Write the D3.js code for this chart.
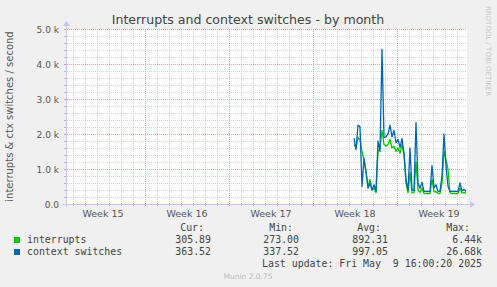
<!DOCTYPE html>
<html>
<head>
<meta charset="utf-8">
<script src="https://cdn.jsdelivr.net/npm/d3@7"></script>
<style>
  body { margin: 0; background: #f0f0f0; }
  svg { display: block; }
</style>
</head>
<body>
<div id="chart"></div>
<script>
// ---- data ----
const seriesNames = ["interrupts", "context switches"];
const seriesColors = ["#00cc00", "#0066b3"];
const firstSample = Date.UTC(2025, 3, 30, 10);   // Apr 30 10:00
const stepHours = 4;

const interrupts = [1700, 1600, 1900, 1830, 1500, 1250, 900, 500, 700, 400,
                    450, 320, 1500, 1600, 2100, 1700, 1650, 1700, 1850, 1600,
                    1650, 1500, 1600, 1450, 1700, 1400, 600, 320, 900, 320,
                    320, 1200, 400, 330, 450, 300, 300, 300, 300, 700,
                    350, 350, 300, 300, 600, 1500, 1270, 1000, 320, 300,
                    300, 300, 300, 450, 310, 330, 306];

const ctxSwitches = [1880, 1550, 2250, 2210, 500, 1300, 950, 450, 600, 400,
                     550, 360, 1800, 1500, 4420, 1900, 1920, 2000, 2250, 1920,
                     2100, 1750, 1850, 1620, 1870, 1450, 700, 380, 1600, 400,
                     380, 2330, 600, 450, 620, 360, 360, 360, 360, 1100,
                     460, 550, 360, 370, 800, 2000, 1100, 500, 360, 360,
                     360, 360, 360, 600, 370, 420, 364];

const yTicks = [0, 1000, 2000, 3000, 4000, 5000];
const yTickLabels = ["0.0", "1.0 k", "2.0 k", "3.0 k", "4.0 k", "5.0 k"];

const legendHeads = ["Cur:", "Min:", "Avg:", "Max:"];
const legendCur = ["305.89", "363.52"];
const legendMin = ["273.00", "337.52"];
const legendAvg = ["892.31", "997.05"];
const legendMax = ["6.44k", "26.68k"];

// ---- layout ----
const W = 497, H = 287;
const plot = {left: 67, right: 467, top: 29, bottom: 204};

const svg = d3.select("#chart")
    .append("svg")
    .attr("width", W)
    .attr("height", H)
    .style("font-family", "'DejaVu Sans', sans-serif");

svg.append("rect")
    .attr("width", W).attr("height", H)
    .attr("fill", "#f0f0f0");

const x = d3.scaleUtc()
    .domain([new Date(Date.UTC(2025, 3, 6, 12)), new Date(Date.UTC(2025, 4, 9, 20))])
    .range([plot.left, plot.right]);

const y = d3.scaleLinear()
    .domain([0, 5000])
    .range([plot.bottom, plot.top]);

svg.append("rect")
    .attr("x", plot.left).attr("y", plot.top)
    .attr("width", plot.right - plot.left)
    .attr("height", plot.bottom - plot.top)
    .attr("fill", "#fff");

// grid
const grid = svg.append("g");
const days = d3.utcDay.range(x.domain()[0], x.domain()[1]);
const weeks = d3.utcSunday.range(x.domain()[0], x.domain()[1]);
const minorY = d3.range(200, 5001, 200).filter(v => v % 1000 != 0);

grid.selectAll(".vmin")
    .data(days.filter(d => d.getUTCDay() != 0))
    .enter().append("line")
    .attr("x1", d => Math.round(x(d)) + 0.5)
    .attr("x2", d => Math.round(x(d)) + 0.5)
    .attr("y1", plot.top).attr("y2", plot.bottom)
    .attr("stroke", "#d4d4d4")
    .attr("stroke-dasharray", "1,1");

grid.selectAll(".hmin")
    .data(minorY)
    .enter().append("line")
    .attr("x1", plot.left).attr("x2", plot.right)
    .attr("y1", d => Math.round(y(d)) + 0.5)
    .attr("y2", d => Math.round(y(d)) + 0.5)
    .attr("stroke", "#d4d4d4")
    .attr("stroke-dasharray", "1,1");

grid.selectAll(".vmaj")
    .data(weeks)
    .enter().append("line")
    .attr("x1", d => Math.round(x(d)) + 0.5)
    .attr("x2", d => Math.round(x(d)) + 0.5)
    .attr("y1", plot.top).attr("y2", plot.bottom)
    .attr("stroke", "#eba0a0")
    .attr("stroke-dasharray", "1,1");

grid.selectAll(".hmaj")
    .data(yTicks.slice(1))
    .enter().append("line")
    .attr("x1", plot.left).attr("x2", plot.right)
    .attr("y1", d => Math.round(y(d)) + 0.5)
    .attr("y2", d => Math.round(y(d)) + 0.5)
    .attr("stroke", "#eba0a0")
    .attr("stroke-dasharray", "1,1");

// tick marks outside the axes
svg.selectAll(".xtick")
    .data(days)
    .enter().append("line")
    .attr("x1", d => Math.round(x(d)) + 0.5)
    .attr("x2", d => Math.round(x(d)) + 0.5)
    .attr("y1", plot.bottom - 1).attr("y2", plot.bottom + 2)
    .attr("stroke", d => d.getUTCDay() == 0 ? "#e09090" : "#bbb");

svg.selectAll(".ytick")
    .data(d3.range(0, 5001, 200))
    .enter().append("line")
    .attr("x1", plot.left - 3).attr("x2", plot.left)
    .attr("y1", d => Math.round(y(d)) + 0.5)
    .attr("y2", d => Math.round(y(d)) + 0.5)
    .attr("stroke", d => d % 1000 == 0 ? "#e09090" : "#bbb");

// series
const toPoints = vals => vals.map((v, i) => ({t: new Date(firstSample + i * stepHours * 3600e3), v: v}));
const line = d3.line()
    .x(d => x(d.t))
    .y(d => y(d.v));

[interrupts, ctxSwitches].forEach(function(vals, i) {
    svg.append("path")
        .datum(toPoints(vals))
        .attr("fill", "none")
        .attr("stroke", seriesColors[i])
        .attr("stroke-width", 1.3)
        .attr("stroke-linejoin", "round")
        .attr("d", line);
});

// axes with arrows
const axisColor = "#c4c8f0";
svg.append("line")
    .attr("x1", plot.left - 4).attr("x2", plot.right + 4)
    .attr("y1", plot.bottom + 0.5).attr("y2", plot.bottom + 0.5)
    .attr("stroke", axisColor);
svg.append("path")
    .attr("d", `M${plot.right + 3},${plot.bottom - 3} L${plot.right + 8},${plot.bottom + 0.5} L${plot.right + 3},${plot.bottom + 4} Z`)
    .attr("fill", axisColor);
svg.append("line")
    .attr("x1", plot.left - 0.5).attr("x2", plot.left - 0.5)
    .attr("y1", plot.bottom + 3).attr("y2", plot.top - 4)
    .attr("stroke", axisColor);
svg.append("path")
    .attr("d", `M${plot.left - 4},${plot.top - 3} L${plot.left - 0.5},${plot.top - 8} L${plot.left + 3},${plot.top - 3} Z`)
    .attr("fill", axisColor);

// axis labels
svg.selectAll(".ylab")
    .data(yTicks)
    .enter().append("text")
    .attr("x", plot.left - 8)
    .attr("y", d => y(d) + 3.5)
    .attr("text-anchor", "end")
    .attr("font-size", 9)
    .attr("fill", "#555")
    .text((d, i) => yTickLabels[i]);

const weekMids = weeks.concat([d3.utcSunday.offset(weeks[0], -1)])
    .map(d => d3.utcHour.offset(d, 84))
    .filter(d => d > x.domain()[0] && d < x.domain()[1])
    .sort((a, b) => a - b);

svg.selectAll(".xlab")
    .data(weekMids)
    .enter().append("text")
    .attr("x", d => x(d))
    .attr("y", plot.bottom + 13)
    .attr("text-anchor", "middle")
    .attr("font-size", 9.5)
    .attr("fill", "#555")
    .text(d => "Week " + d3.utcFormat("%V")(d));

// titles
svg.append("text")
    .attr("x", 248).attr("y", 23.5)
    .attr("text-anchor", "middle")
    .attr("font-size", 12.6)
    .attr("fill", "#444")
    .text("Interrupts and context switches - by month");

svg.append("text")
    .attr("transform", `translate(13, ${(plot.top + plot.bottom) / 2}) rotate(-90)`)
    .attr("text-anchor", "middle")
    .attr("font-size", 10)
    .attr("fill", "#555")
    .text("interrupts & ctx switches / second");

svg.append("text")
    .attr("transform", "translate(486, 6) rotate(90)")
    .attr("font-size", 7)
    .attr("fill", "#c8c8c8")
    .text("RRDTOOL / TOBI OETIKER");

// legend
const mono = "'DejaVu Sans Mono', monospace";
const colRight = [204, 293, 381, 470];
const valRight = [211, 299, 388, 482];

svg.selectAll(".lhead")
    .data(legendHeads)
    .enter().append("text")
    .attr("x", (d, i) => colRight[i])
    .attr("y", 231)
    .attr("text-anchor", "end")
    .attr("font-family", mono)
    .attr("font-size", 9.9)
    .attr("fill", "#444")
    .text(d => d);

seriesNames.forEach(function(name, i) {
    const rowY = 243 + i * 12;
    svg.append("rect")
        .attr("x", 14).attr("y", rowY - 6)
        .attr("width", 6).attr("height", 6)
        .attr("fill", seriesColors[i]);
    svg.append("text")
        .attr("x", 27).attr("y", rowY)
        .attr("font-family", mono)
        .attr("font-size", 9.9)
        .attr("fill", "#444")
        .text(name);
    [legendCur, legendMin, legendAvg, legendMax].forEach(function(col, j) {
        svg.append("text")
            .attr("x", valRight[j]).attr("y", rowY)
            .attr("text-anchor", "end")
            .attr("font-family", mono)
            .attr("font-size", 9.9)
            .attr("fill", "#444")
            .text(col[i]);
    });
});

svg.append("text")
    .attr("x", 482).attr("y", 267)
    .attr("text-anchor", "end")
    .attr("font-family", mono)
    .attr("font-size", 9.9)
    .attr("fill", "#444")
    .text("Last update: Fri May  9 16:00:20 2025")
    .style("white-space", "pre");

svg.append("text")
    .attr("x", 248).attr("y", 279)
    .attr("text-anchor", "middle")
    .attr("font-size", 7.5)
    .attr("fill", "#bbb")
    .text("Munin 2.0.75");
</script>
</body>
</html>
